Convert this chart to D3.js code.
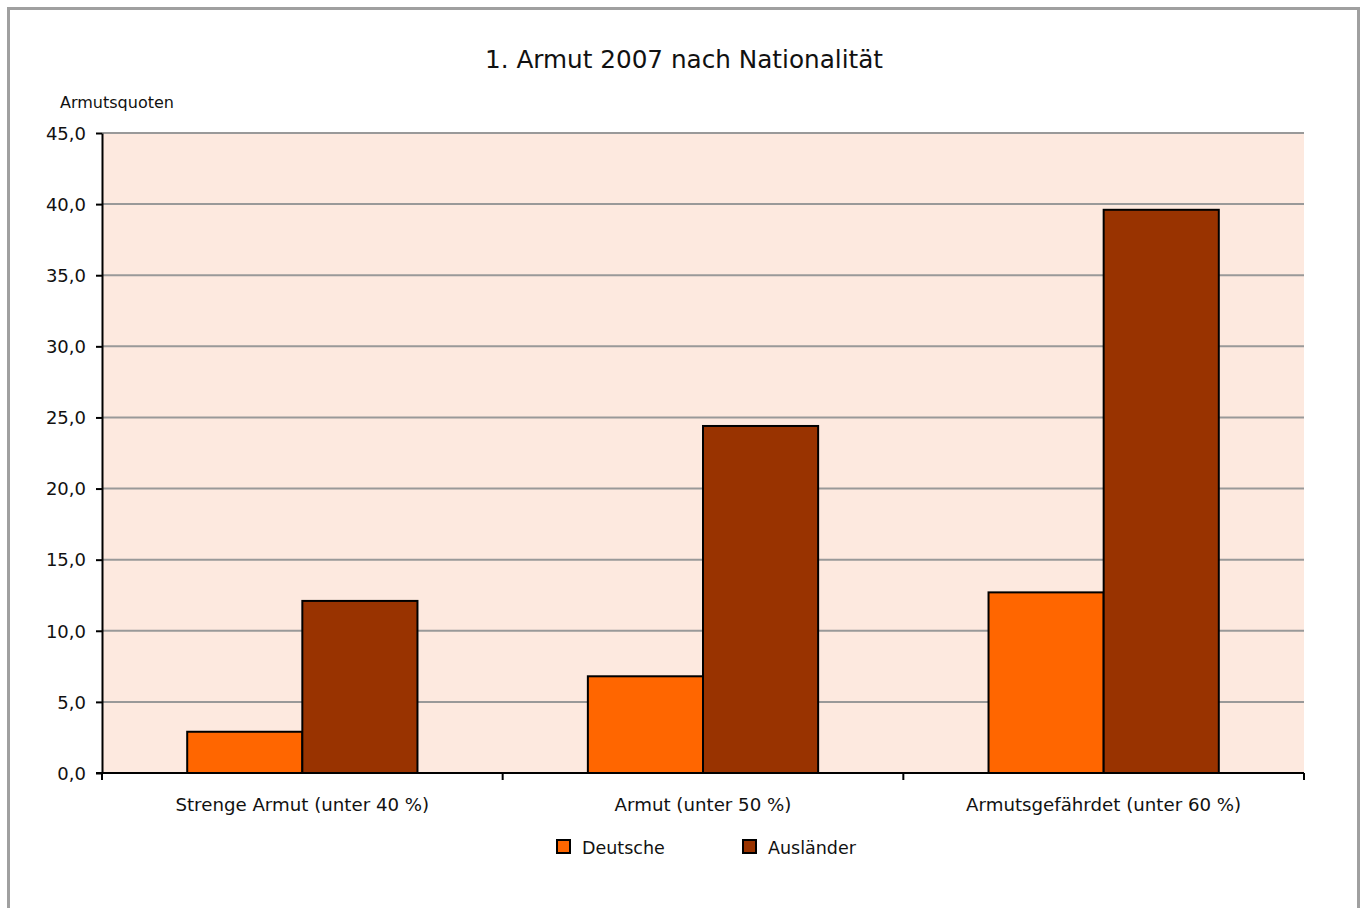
<!DOCTYPE html>
<html><head><meta charset="utf-8">
<script src="https://cdn.jsdelivr.net/npm/d3@7"></script>
<style>body{margin:0;background:#fff}svg{display:block}text{font-family:"DejaVu Sans",sans-serif;fill:#111}</style>
</head><body>
<script>
const title = "1. Armut 2007 nach Nationalität";
const yAxisTitle = "Armutsquoten";
const categories = ["Strenge Armut (unter 40 %)", "Armut (unter 50 %)", "Armutsgefährdet (unter 60 %)"];
const seriesNames = ["Deutsche", "Ausländer"];
const deutsche = [2.9, 6.8, 12.7];
const auslaender = [12.1, 24.4, 39.6];
const yTicks = [0, 5, 10, 15, 20, 25, 30, 35, 40, 45];
const colors = ["#ff6600", "#993300"];

const W = 1365, H = 908;
const svg = d3.select("body").append("svg").attr("width", W).attr("height", H);
svg.append("rect").attr("x", 8.5).attr("y", 8.5).attr("width", 1350).attr("height", 920)
  .attr("fill", "#fff").attr("stroke", "#a0a0a0").attr("stroke-width", 3);

const L = 102, R = 1304, T = 133, B = 773;
const x = d3.scaleBand().domain(categories).range([L, R]).paddingInner(0).paddingOuter(0);
const y = d3.scaleLinear().domain([0, 45]).range([B, T]);
const inner = d3.scaleBand().domain(seriesNames).range([0, x.bandwidth()]).paddingInner(0).paddingOuter(0.74);

svg.append("rect").attr("x", L).attr("y", T).attr("width", R - L).attr("height", B - T).attr("fill", "#fde9df");

svg.append("g").selectAll("line").data(yTicks.filter(d => d > 0)).join("line")
  .attr("x1", L).attr("x2", R).attr("y1", d => y(d)).attr("y2", d => y(d))
  .attr("stroke", "#999").attr("stroke-width", 2);

const data = categories.map((c, i) => ({c, vals: [deutsche[i], auslaender[i]]}));
const g = svg.append("g");
data.forEach(d => {
  d.vals.forEach((v, j) => {
    g.append("rect")
      .attr("x", x(d.c) + inner(seriesNames[j]))
      .attr("y", y(v))
      .attr("width", inner.bandwidth())
      .attr("height", y(0) - y(v))
      .attr("fill", colors[j]).attr("stroke", "#000").attr("stroke-width", 2);
  });
});

// Y axis
const yAxis = d3.axisLeft(y).tickValues(yTicks).tickSize(6).tickSizeOuter(0)
  .tickFormat(d => d3.format(".1f")(d).replace(".", ","));
const ya = svg.append("g").attr("transform", `translate(${L},0)`).call(yAxis);
ya.select(".domain").attr("stroke", "#000").attr("stroke-width", 2);
ya.selectAll(".tick line").attr("stroke", "#000").attr("stroke-width", 2);
ya.selectAll(".tick text").attr("x", -16).attr("dy", "0.35em").style("font-size", "18px")
  .style("font-family", '"DejaVu Sans",sans-serif').attr("fill", "#111");

// X axis
const xa = svg.append("g").attr("transform", `translate(0,${B})`);
xa.append("line").attr("x1", L - 6).attr("x2", R).attr("y1", 0).attr("y2", 0).attr("stroke", "#000").attr("stroke-width", 2);
const bounds = categories.map(c => x(c)).concat([x(categories[categories.length - 1]) + x.bandwidth()]);
xa.selectAll(".xt").data(bounds).join("line").attr("class", "xt")
  .attr("x1", d => d).attr("x2", d => d).attr("y1", 0).attr("y2", 7).attr("stroke", "#000").attr("stroke-width", 2);
xa.selectAll(".xl").data(categories).join("text").attr("class", "xl")
  .attr("x", d => x(d) + x.bandwidth() / 2).attr("y", 38).attr("text-anchor", "middle")
  .style("font-size", "18.2px").text(d => d);

svg.append("text").attr("x", 684).attr("y", 68).attr("text-anchor", "middle").style("font-size", "24.7px").text(title);
svg.append("text").attr("x", 60).attr("y", 108).style("font-size", "16px").text(yAxisTitle);

// Legend
const legX = [557, 743];
seriesNames.forEach((s, j) => {
  svg.append("rect").attr("x", legX[j]).attr("y", 840).attr("width", 13).attr("height", 13)
    .attr("fill", colors[j]).attr("stroke", "#000").attr("stroke-width", 2);
  svg.append("text").attr("x", legX[j] + 25).attr("y", 854).style("font-size", "17.5px").text(s);
});
</script>
</body></html>
